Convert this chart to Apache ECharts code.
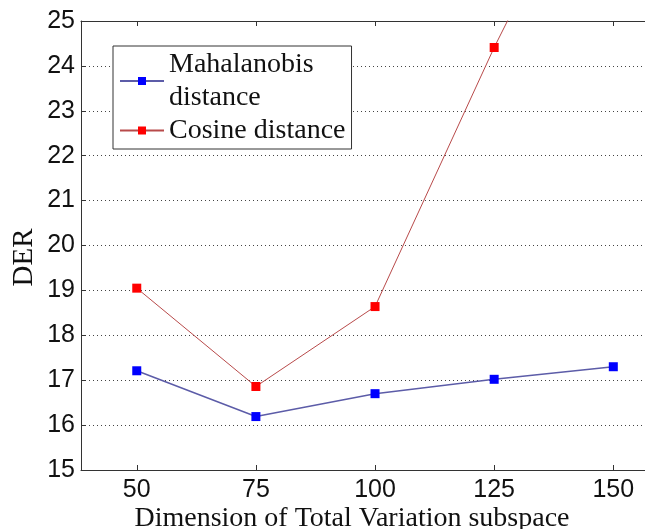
<!DOCTYPE html>
<html>
<head>
<meta charset="utf-8">
<script src="https://cdn.jsdelivr.net/npm/echarts@6/dist/echarts.min.js"></script>
<style>
  html, body { margin: 0; padding: 0; background: #fff; }
  #chart { width: 645px; height: 529px; }
</style>
</head>
<body>
<div id="chart"></div>
<script>
// data
var dims = [50, 75, 100, 125, 150]
var mahalanobis = [17.21, 16.19, 16.7, 17.02, 17.3]
var cosine = [19.05, 16.86, 18.64, 24.41, 29.7]
var xTicks = [50, 75, 100, 125, 150]

var serif = "'Liberation Serif', 'Times New Roman', serif"
var sans = "'Liberation Sans', Arial, sans-serif"

function pairs(ys) {
  return dims.map(function (d, i) { return [d, ys[i]] })
}

var myChart = echarts.init(document.getElementById('chart'))

var option = {
  animation: false,
  // the original figure is cropped on the right, so the box runs off the edge
  grid: { left: 81, top: 21, right: 0, bottom: 59, containLabel: false, outerBoundsMode: 'none' },
  legend: {
    orient: 'vertical',
    left: 113,
    top: 46,
    padding: [2, 6, 2, 6],
    itemGap: 0,
    itemWidth: 44,
    itemHeight: 10,
    backgroundColor: '#fff',
    borderColor: '#333',
    borderWidth: 1,
    textStyle: { fontFamily: serif, fontSize: 28, color: '#111', lineHeight: 33 },
    data: ['Mahalanobis\ndistance', 'Cosine distance']
  },
  xAxis: [
    {
      type: 'value',
      min: 38.3,
      max: 156.65,
      name: 'Dimension of Total Variation subspace',
      nameLocation: 'middle',
      nameGap: 35,
      nameMoveOverlap: false,
      nameTextStyle: { fontFamily: serif, fontSize: 28, color: '#111', padding: [0, 22, 0, 0] },
      axisLine: { show: true, lineStyle: { color: '#333', width: 1 } },
      axisTick: { inside: true, length: 5, customValues: xTicks, lineStyle: { color: '#333' } },
      axisLabel: { customValues: xTicks, fontFamily: sans, fontSize: 25, color: '#111', margin: 8 },
      splitLine: { show: false }
    },
    {
      // top border of the box
      type: 'value',
      position: 'top',
      min: 38.3,
      max: 156.65,
      axisLine: { show: true, lineStyle: { color: '#333', width: 1 } },
      axisTick: { inside: true, length: 5, customValues: xTicks, lineStyle: { color: '#333' } },
      axisLabel: { show: false },
      splitLine: { show: false }
    }
  ],
  yAxis: {
    type: 'value',
    min: 15,
    max: 25,
    interval: 1,
    name: 'DER',
    nameLocation: 'middle',
    nameGap: 42,
    nameMoveOverlap: false,
    nameTextStyle: { fontFamily: serif, fontSize: 29, color: '#111', padding: [0, 24, 0, 0] },
    axisLine: { show: true, lineStyle: { color: '#333', width: 1 } },
    axisTick: { inside: true, length: 5, lineStyle: { color: '#333' } },
    axisLabel: { fontFamily: sans, fontSize: 25, color: '#111', margin: 6 },
    splitLine: { show: true, lineStyle: { color: '#444', type: [1, 3], width: 1 } }
  },
  series: [
    {
      name: 'Mahalanobis\ndistance',
      type: 'line',
      data: pairs(mahalanobis),
      symbol: 'rect',
      symbolSize: 9,
      clip: true,
      itemStyle: { color: '#0000ff' },
      lineStyle: { color: '#5c5ca8', width: 1.5 }
    },
    {
      name: 'Cosine distance',
      type: 'line',
      data: pairs(cosine),
      symbol: 'rect',
      symbolSize: 9,
      clip: true,
      itemStyle: { color: '#ff0000' },
      lineStyle: { color: '#b84a4a', width: 1 }
    }
  ]
}

myChart.setOption(option)
</script>
</body>
</html>
